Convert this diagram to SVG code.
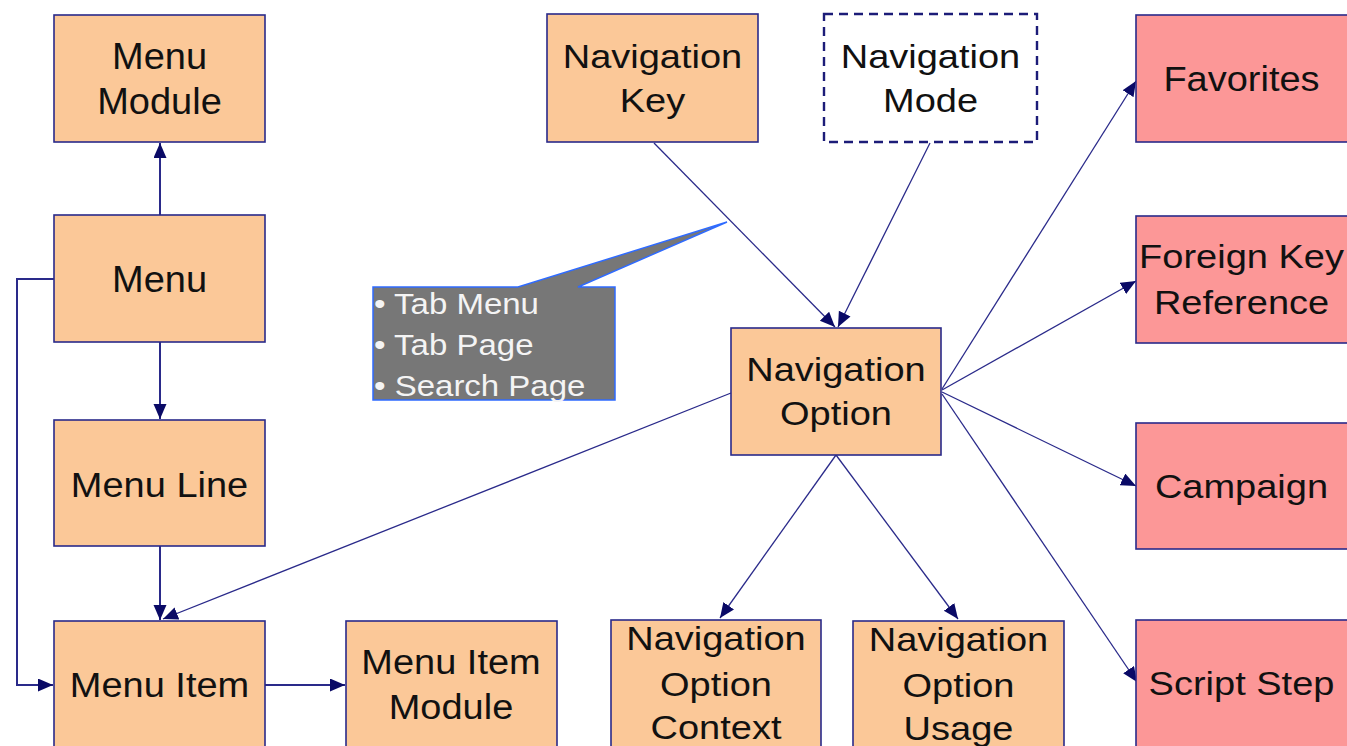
<svg xmlns="http://www.w3.org/2000/svg" width="1347" height="746" viewBox="0 0 1347 746">
<style>
.box{fill:#FBC898;stroke:#2A2A8A;stroke-width:1.6}
.pink{fill:#FC9797;stroke:#2A2A8A;stroke-width:1.6}
.dash{fill:#FFFFFF;stroke:#1C1C78;stroke-width:2.4;stroke-dasharray:9 6}
.t{font-family:"Liberation Sans",Arial,sans-serif;font-size:38px;fill:#111111;text-anchor:middle}
.c{font-family:"Liberation Sans",Arial,sans-serif;font-size:33px;fill:#F4F4F4}
.ln{fill:none;stroke:#2A2A8A;stroke-width:2;marker-end:url(#ah)}
.dg{fill:none;stroke:#2A2A8A;stroke-width:1.3;marker-end:url(#ah)}
</style>
<defs>
<marker id="ah" markerUnits="userSpaceOnUse" markerWidth="16" markerHeight="14" refX="15" refY="6.5" orient="auto">
<path d="M0,0 L15,6.5 L0,13 Z" fill="#0A0A66"/>
</marker>
</defs>
<rect width="1347" height="746" fill="#FFFFFF"/>

<g id="connectors">
<path class="ln" d="M160,215 L160,143"/>
<path class="ln" d="M160,342 L160,419"/>
<path class="ln" d="M160,546 L160,620"/>
<path class="ln" d="M54,279 L17,279 L17,685 L53,685"/>
<path class="ln" d="M265,685 L345,685"/>
<path class="dg" d="M731,393 L163,619"/>
<path class="dg" d="M654,143 L835,327"/>
<path class="dg" d="M930,143 L838,327"/>
<path class="dg" d="M942,389 L1136,81"/>
<path class="dg" d="M942,390 L1136,281"/>
<path class="dg" d="M942,392 L1136,486"/>
<path class="dg" d="M942,394 L1137,682"/>
<path class="dg" d="M836,455 L720,618"/>
<path class="dg" d="M836,455 L958,619"/>
</g>

<g id="menu-module">
<rect class="box" x="54" y="15" width="211" height="127"/>
<text class="t" transform="translate(159.5 69) scale(1 0.96)"><tspan x="0" y="0">Menu</tspan><tspan x="0" y="47">Module</tspan></text>
</g>
<g id="menu">
<rect class="box" x="54" y="215" width="211" height="127"/>
<text class="t" transform="translate(159.5 292) scale(1 0.96)">Menu</text>
</g>
<g id="menu-line">
<rect class="box" x="54" y="420" width="211" height="126"/>
<text class="t" transform="translate(159.5 497) scale(1 0.94)">Menu Line</text>
</g>
<g id="menu-item">
<rect class="box" x="54" y="621" width="211" height="127"/>
<text class="t" transform="translate(159.5 697) scale(1 0.94)">Menu Item</text>
</g>
<g id="menu-item-module">
<rect class="box" x="346" y="621" width="211" height="127"/>
<text class="t" transform="translate(451 674) scale(1 0.9)"><tspan x="0" y="0">Menu Item</tspan><tspan x="0" y="50">Module</tspan></text>
</g>

<g id="callout">
<path d="M373,287 L518,287 L727,222 L578,287 L615,287 L615,400 L373,400 Z" fill="#777777" stroke="#2F6BFF" stroke-width="1.5"/>
<text class="c" transform="translate(374 314) scale(1 0.92)"><tspan x="0" y="0">• Tab Menu</tspan><tspan x="0" y="44.5">• Tab Page</tspan><tspan x="0" y="89">• Search Page</tspan></text>
</g>

<g id="navigation-key">
<rect class="box" x="547" y="14" width="211" height="128"/>
<text class="t" transform="translate(652.5 68) scale(1 0.86)"><tspan x="0" y="0">Navigation</tspan><tspan x="0" y="51">Key</tspan></text>
</g>
<g id="navigation-mode">
<rect class="dash" x="824" y="14" width="213" height="128"/>
<text class="t" transform="translate(930.5 68) scale(1 0.86)"><tspan x="0" y="0">Navigation</tspan><tspan x="0" y="51">Mode</tspan></text>
</g>
<g id="navigation-option">
<rect class="box" x="731" y="328" width="210" height="127"/>
<text class="t" transform="translate(836 381) scale(1 0.86)"><tspan x="0" y="0">Navigation</tspan><tspan x="0" y="51">Option</tspan></text>
</g>
<g id="navigation-option-context">
<rect class="box" x="611" y="620" width="210" height="128"/>
<text class="t" transform="translate(716 650) scale(1 0.86)"><tspan x="0" y="0">Navigation</tspan><tspan x="0" y="53">Option</tspan><tspan x="0" y="104">Context</tspan></text>
</g>
<g id="navigation-option-usage">
<rect class="box" x="853" y="621" width="211" height="127"/>
<text class="t" transform="translate(958.5 651) scale(1 0.86)"><tspan x="0" y="0">Navigation</tspan><tspan x="0" y="53">Option</tspan><tspan x="0" y="104">Usage</tspan></text>
</g>

<g id="favorites">
<rect class="pink" x="1136" y="15" width="213" height="127"/>
<text class="t" transform="translate(1241.5 91) scale(1 0.94)">Favorites</text>
</g>
<g id="foreign-key-reference">
<rect class="pink" x="1136" y="216" width="213" height="127"/>
<text class="t" transform="translate(1241.5 268) scale(1 0.86)"><tspan x="0" y="0">Foreign Key</tspan><tspan x="0" y="53">Reference</tspan></text>
</g>
<g id="campaign">
<rect class="pink" x="1136" y="423" width="213" height="126"/>
<text class="t" transform="translate(1241.5 498) scale(1 0.86)">Campaign</text>
</g>
<g id="script-step">
<rect class="pink" x="1136" y="620" width="213" height="128"/>
<text class="t" transform="translate(1241.5 695) scale(1 0.86)">Script Step</text>
</g>
</svg>
